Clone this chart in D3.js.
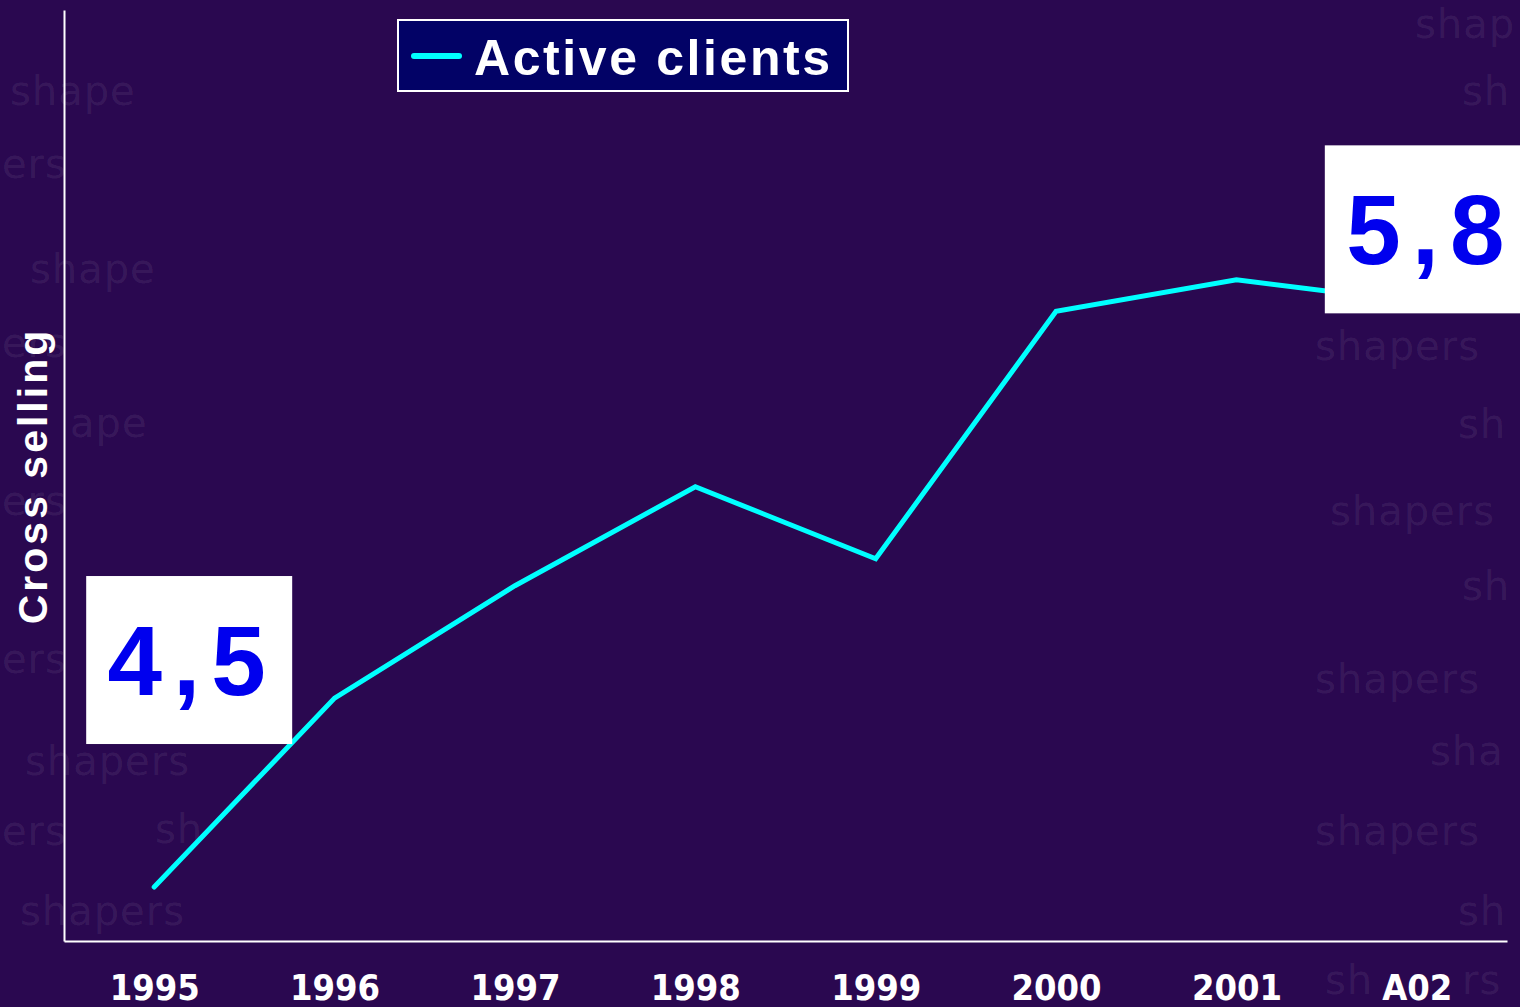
<!DOCTYPE html>
<html>
<head>
<meta charset="utf-8">
<script src="https://cdn.jsdelivr.net/npm/d3@7"></script>
<style>
  html, body { margin: 0; padding: 0; background: #2a0850; overflow: hidden; }
  svg { display: block; }
</style>
</head>
<body>
<svg id="chart" width="1520" height="1007"></svg>
<script>
// Cross selling of active clients, per year
const years = ["1995", "1996", "1997", "1998", "1999", "2000", "2001", "A02"];
const activeClients = [4.5, 4.92, 5.17, 5.39, 5.23, 5.78, 5.85, 5.8];
const seriesName = "Active clients";
const yTitle = "Cross selling";
// values called out in boxes: [category index, value]
const callouts = [[0, 4.5], [7, 5.8]];

// background watermark words: [x, y, word]
const watermarks = [
  [10, 105, "shape"], [2, 178, "ers"], [30, 283, "shape"], [2, 357, "ers"],
  [70, 437, "ape"], [2, 515, "ers"], [2, 673, "ers"], [25, 775, "shapers"],
  [2, 845, "ers"], [155, 843, "sh"], [20, 925, "shapers"],
  [1415, 38, "shap"], [1462, 105, "sh"], [1315, 360, "shapers"], [1458, 438, "sh"],
  [1330, 525, "shapers"], [1462, 600, "sh"], [1315, 693, "shapers"], [1430, 765, "sha"],
  [1315, 845, "shapers"], [1458, 925, "sh"], [1325, 994, "sh"], [1462, 994, "rs"]
];

const W = 1520, H = 1007;
const svg = d3.select("#chart");

svg.append("rect").attr("width", W).attr("height", H).attr("fill", "#2a0850");

svg.append("g").selectAll("text").data(watermarks).join("text")
  .attr("x", d => d[0]).attr("y", d => d[1])
  .attr("font-family", "DejaVu Sans, sans-serif")
  .attr("font-size", 40)
  .attr("letter-spacing", 1)
  .attr("fill", "#ffffff")
  .attr("fill-opacity", 0.08)
  .text(d => d[2]);

const x = d3.scalePoint().domain(years).range([64, 1507]).padding(0.5);
const y = d3.scaleLinear().domain([4.38, 6.45]).range([941, 10]);

// axes
const xAxis = svg.append("g").attr("transform", "translate(0,941)")
  .call(d3.axisBottom(x).tickSize(0).tickSizeOuter(0).tickPadding(0));
xAxis.select(".domain").attr("stroke", "#ffffff").attr("stroke-width", 2);
xAxis.selectAll(".tick text")
  .attr("y", 59).attr("dy", 0)
  .attr("fill", "#ffffff")
  .attr("font-family", "DejaVu Sans Condensed, DejaVu Sans, sans-serif")
  .attr("font-weight", "bold")
  .attr("font-size", 36);

const yAxis = svg.append("g").attr("transform", "translate(64,0)")
  .call(d3.axisLeft(y).ticks(0).tickSize(0).tickSizeOuter(0));
yAxis.select(".domain").attr("stroke", "#ffffff").attr("stroke-width", 2);

svg.append("text")
  .attr("transform", "translate(47,476) rotate(-90)")
  .attr("text-anchor", "middle")
  .attr("fill", "#ffffff")
  .attr("font-family", "Liberation Sans, Arial, sans-serif")
  .attr("font-weight", "bold")
  .attr("font-size", 41)
  .attr("letter-spacing", 3)
  .text(yTitle);

// series line
const line = d3.line().x((d, i) => x(years[i])).y(d => y(d));
svg.append("path")
  .datum(activeClients)
  .attr("d", line)
  .attr("fill", "none")
  .attr("stroke", "#00ffff")
  .attr("stroke-width", 5)
  .attr("stroke-linejoin", "miter")
  .attr("stroke-linecap", "round");

// legend
const lg = svg.append("g").attr("transform", "translate(398,20)");
lg.append("rect").attr("width", 450).attr("height", 71)
  .attr("fill", "#020266").attr("stroke", "#ffffff").attr("stroke-width", 2);
lg.append("line").attr("x1", 16).attr("x2", 61).attr("y1", 36).attr("y2", 36)
  .attr("stroke", "#00ffff").attr("stroke-width", 6).attr("stroke-linecap", "round");
lg.append("text").attr("x", 76).attr("y", 55)
  .attr("fill", "#ffffff")
  .attr("font-family", "Liberation Sans, Arial, sans-serif")
  .attr("font-weight", "bold")
  .attr("font-size", 50)
  .attr("letter-spacing", 2.6)
  .text(seriesName);

// value callouts
const fmt = v => d3.format(".1f")(v).replace(".", ",");
const boxes = [
  { dx: -68, dy: -311, w: 206 },
  { dx: -92, dy: -157, w: 210 }
];
callouts.forEach(([i, v], k) => {
  const cx = x(years[i]), cy = y(v), b = boxes[k];
  const g = svg.append("g").attr("transform", `translate(${cx + b.dx},${cy + b.dy})`);
  g.append("rect").attr("width", b.w).attr("height", 168).attr("fill", "#ffffff");
  g.append("text").attr("x", 106).attr("y", 119)
    .attr("text-anchor", "middle")
    .attr("fill", "#0000ee")
    .attr("font-family", "Liberation Sans, Arial, sans-serif")
    .attr("font-weight", "bold")
    .attr("font-size", 98)
    .attr("letter-spacing", 11)
    .text(fmt(v));
});
</script>
</body>
</html>
